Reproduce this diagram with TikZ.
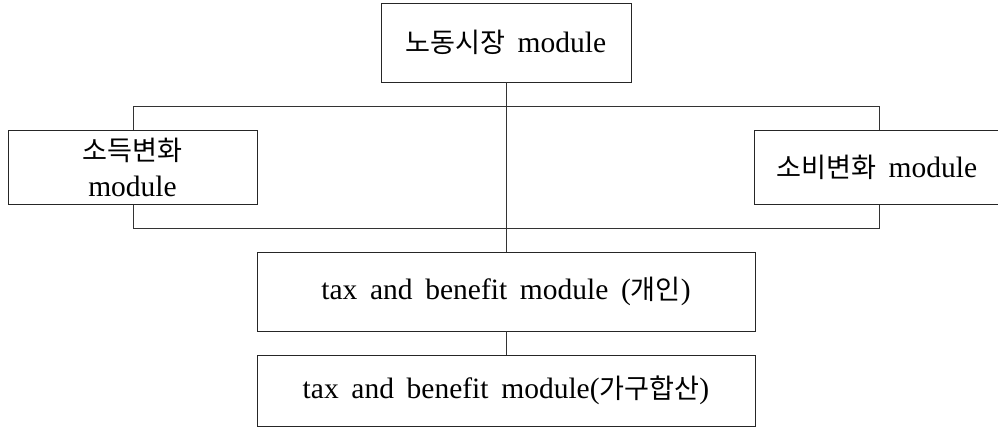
\documentclass[tikz,border=0pt]{standalone}
\usepackage{fontspec}
\setmainfont{Liberation Serif}
\newfontfamily\krfont{Noto Sans CJK KR}[Scale=0.92]
\newcommand\K[1]{{\krfont #1}}
\begin{document}
\begin{tikzpicture}[x=1pt,y=-1pt,
  box/.style={draw=black!85,line width=0.9pt,fill=white,inner sep=0pt,font=\fontsize{29.5}{36}\selectfont,align=center},
  link/.style={draw=black!80,line width=0.9pt}]
\useasboundingbox (0,0) rectangle (998,428);
% frame behind the side boxes
\coordinate (fTL) at (133,106);
\coordinate (fBR) at (879,228);
\draw[link] (fTL) rectangle (fBR);
\node[box,minimum width=250,minimum height=79] (top) at (506,42.5) {\K{노동시장}\hspace{0.4em}module};
\node[box,minimum width=249,minimum height=74] (left) at (132.5,167) {\K{소득변화}\\module};
\node[box,minimum width=246,minimum height=74] (right) at (877,167) {\K{소비변화}\hspace{0.4em}module};
\node[box,minimum width=498,minimum height=79] (tax1) at (506,291.5) {\spaceskip=0.43em tax and benefit module (\K{개인})};
\node[box,minimum width=498,minimum height=71] (tax2) at (506,390.5) {\spaceskip=0.43em tax and benefit module(\K{가구합산})};
\draw[link] (top.south) -- (tax1.north);
\draw[link] (tax1.south) -- (tax2.north);
\end{tikzpicture}
\end{document}
